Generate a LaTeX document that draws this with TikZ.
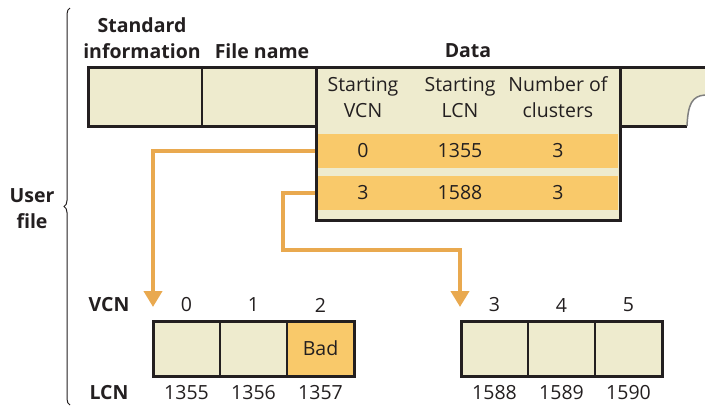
\documentclass[tikz,border=0pt]{standalone}
\usepackage{fontspec}
\setmainfont{Open Sans}
\usepackage{tikz}
\usetikzlibrary{arrows.meta,positioning,decorations.pathreplacing}
\definecolor{inkdark}{RGB}{35,31,32}
\definecolor{paper}{RGB}{238,235,206}
\definecolor{runfill}{RGB}{249,201,106}
\definecolor{flowline}{RGB}{233,169,79}

\begin{document}
\begin{tikzpicture}[
    x=1pt, y=-1pt,
    font=\fontsize{19.5}{26}\selectfont, text=inkdark,
    cell/.style={rectangle, draw=inkdark, line width=1.5pt, fill=paper, minimum width=67pt, minimum height=55pt, outer sep=0pt, inner sep=0pt},
    badcell/.style={cell, fill=runfill},
    label/.style={font=\fontsize{19.5}{26}\selectfont\bfseries, align=center},
    run/.style={rectangle, fill=runfill, minimum width=300pt, minimum height=34pt, inner sep=0pt},
    flow/.style={draw=flowline, line width=4pt, -{Triangle[width=18pt,length=16pt]}},
    node distance=0pt
]
    \useasboundingbox (0,0) rectangle (705,408);

    % file record
    \node[cell, minimum width=114pt, minimum height=59pt] (stdinfo) at (145,96.5) {};
    \node[cell, minimum width=114pt, minimum height=59pt, right=of stdinfo] (fname) {};
    \fill[paper] (620,67) -- (705,67) -- (705,95) .. controls (692,96) and (688,104) .. (687,126) -- (620,126) -- cycle;
    \draw[inkdark, line width=3pt] (88,67) -- (705,67);
    \draw[inkdark, line width=3pt] (620,126) -- (687,126);
    \draw[gray, line width=1.5pt] (705,95) .. controls (692,96) and (688,104) .. (687,126);
    \draw[inkdark, line width=3pt] (88,67) rectangle (316,126);

    % data attribute
    \node[rectangle, draw=inkdark, line width=3pt, fill=paper, minimum width=304pt, minimum height=153pt] (data) at (468,143.5) {};
    \node[run] (run1) at (468,151) {};
    \node[run] (run2) at (468,193) {};
    \node (hvcn) at (363,97) [align=center] {Starting\\VCN};
    \node (hlcn) at (460,97) [align=center] {Starting\\LCN};
    \node (hcnt) at (558,97) [align=center] {Number of\\clusters};
    \node at (363,151) {0};
    \node at (460,151) {1355};
    \node at (558,151) {3};
    \node at (363,193) {3};
    \node at (460,193) {1588};
    \node at (558,193) {3};

    % header labels
    \node[label] (lstd) at (142,38) {Standard\\information};
    \node[label] (lname) at (262,51) {File name};
    \node[label] (ldata) at (468,51) {Data};

    % clusters
    \node[cell] (c0) at (186.5,348.5) {};
    \node[cell, right=of c0] (c1) {};
    \node[badcell, right=of c1] (c2) {Bad};
    \node[cell] (c3) at (494.5,348.5) {};
    \node[cell, right=of c3] (c4) {};
    \node[cell, right=of c4] (c5) {};
    \draw[inkdark, line width=3pt] (c0.north west) rectangle (c2.south east);
    \draw[inkdark, line width=3pt] (c3.north west) rectangle (c5.south east);

    \node[label] (vcn) at (109,305) {VCN};
    \node[label] (lcn) at (109,393) {LCN};
    \foreach \c/\v/\l in {c0/0/1355, c1/1/1356, c2/2/1357, c3/3/1588, c4/4/1589, c5/5/1590} {
        \node at (\c.center |- vcn) {\v};
        \node at (\c.center |- lcn) {\l};
    }

    % run mapping
    \coordinate (tip0) at (153,307);
    \coordinate (bend) at (283,250);
    \coordinate (tip3) at (460,307);
    \draw[flow] (data.west |- run1) -| (tip0);
    \draw[flow] (data.west |- run2) -| (bend) -| (tip3);

    % brace
    \draw[inkdark, line width=1pt, decorate, decoration={brace, amplitude=6pt}] (70,405) -- (70,8);
    \node[label] (user) at (32,209) {User\\file};
\end{tikzpicture}
\end{document}
